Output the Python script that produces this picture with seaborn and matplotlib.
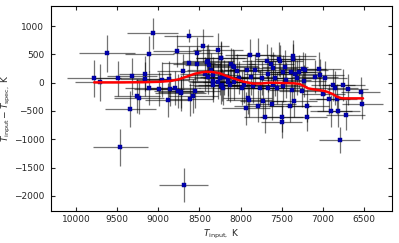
import numpy as np
import pandas as pd
import matplotlib
matplotlib.use("Agg")
import matplotlib.pyplot as plt
import seaborn as sns

# ---- data ----
t_input = [9780, 9710, 9620, 9490, 9460, 9340, 9320, 9260, 9234, 9160,
           9160, 9110, 9110, 9070, 8990, 8950, 8886, 8874, 8858, 8797,
           8770, 8757, 8724, 8720, 8700, 8690, 8630, 8630, 8611, 8574,
           8554, 8533, 8525, 8455, 8436, 8392, 8380, 8339, 8331, 8274,
           8241, 8241, 8209, 8156, 8128, 8116, 8088, 8076, 8047, 8015,
           7979, 7955, 7934, 7914, 7898, 7885, 7873, 7845, 7824, 7784,
           7784, 7764, 7744, 7732, 7703, 7683, 7670, 7662, 7630, 7622,
           7609, 7602, 7581, 7553, 7528, 7520, 7500, 7500, 7488, 7480,
           7460, 7448, 7399, 7387, 7379, 7367, 7351, 7338, 7318, 7286,
           7257, 7245, 7225, 7217, 7196, 7189, 7095, 7043, 7035, 6994,
           6974, 6922, 6901, 6873, 6852, 6832, 6812, 6792, 6751, 6722,
           6697, 6539, 6519, 8412, 8237, 8392, 8331, 8250, 8355, 8197,
           8222, 8278, 8331, 8080, 7925, 8156, 7358]
dT = [75, 5, 520, 80, -1140, -460, 110, -235, -265, 155,
      60, 505, -95, 870, -118, 50, -312, 70, -118, -100,
      555, -141, -188, -160, 200, -1810, 830, 340, -290, -235,
      -141, 329, 525, 650, 153, 382, 312, 29, 135, 576,
      441, -59, -100, 17, -41, 324, 300, 11, 212, 88,
      -100, -41, -453, -265, -306, 488, 94, -59, 223, 488,
      -412, -100, 77, -323, -600, 382, 153, -100, 324, -377,
      253, -41, 77, -100, 412, 382, -600, -700, 194, -59,
      282, 47, -412, 194, -130, 412, -318, 153, 88, 194,
      -141, 241, 29, 223, -600, -412, 106, 241, 135, -206,
      77, -288, -494, -41, -100, -288, -494, -1012, -41, -571,
      -118, -159, -377, 370, 430, 106, 18, 77, 223, 94,
      -41, 11, -47, 282, 223, 77, 470]
t_err = [330, 300, 340, 320, 330, 310, 300, 280, 300, 320,
         310, 300, 290, 310, 300, 320, 280, 330, 300, 310,
         290, 300, 310, 280, 320, 300, 300, 320, 280, 300,
         310, 290, 300, 320, 300, 310, 290, 300, 320, 300,
         300, 320, 290, 300, 310, 290, 300, 320, 300, 280,
         300, 310, 290, 300, 280, 300, 310, 290, 300, 280,
         300, 290, 310, 280, 260, 300, 290, 310, 280, 300,
         290, 300, 280, 310, 290, 280, 260, 250, 300, 290,
         280, 300, 260, 290, 280, 270, 280, 290, 300, 270,
         280, 290, 270, 280, 250, 260, 280, 270, 290, 260,
         270, 250, 260, 270, 280, 250, 260, 250, 260, 240,
         250, 240, 250, 300, 310, 290, 300, 320, 300, 290,
         300, 310, 290, 300, 280, 300, 280]
dT_err = [330, 320, 330, 310, 330, 320, 320, 300, 290, 310,
          300, 320, 300, 280, 300, 310, 300, 320, 290, 300,
          280, 300, 310, 290, 300, 300, 120, 300, 290, 300,
          310, 300, 280, 290, 300, 310, 290, 300, 320, 300,
          290, 310, 300, 320, 300, 290, 300, 310, 300, 290,
          300, 310, 290, 280, 300, 290, 310, 300, 280, 300,
          290, 310, 300, 280, 290, 300, 310, 290, 300, 280,
          290, 300, 310, 280, 300, 290, 270, 280, 300, 290,
          300, 310, 280, 290, 300, 280, 290, 300, 310, 290,
          280, 300, 290, 300, 260, 280, 290, 300, 280, 290,
          300, 270, 280, 290, 300, 270, 280, 235, 290, 260,
          280, 260, 270, 300, 290, 310, 300, 290, 300, 310,
          290, 300, 300, 290, 300, 310, 290]

t_run = [9780, 9500, 9200, 9000, 8850, 8750, 8650, 8550, 8480, 8420,
         8350, 8250, 8170, 8090, 7970, 7850, 7750, 7650, 7500, 7350,
         7280, 7230, 7180, 7100, 7000, 6950, 6880, 6830, 6780, 6750,
         6650, 6510]
dT_run = [5, 5, 8, 15, 30, 60, 110, 160, 180, 192,
          190, 165, 118, 77, 20, -15, -15, 0, -5, -11,
          -24, -60, -100, -120, -140, -160, -200, -247, -270, -277,
          -277, -277]

x_ticks = [10000, 9500, 9000, 8500, 8000, 7500, 7000, 6500]
y_ticks = [1000, 500, 0, -500, -1000, -1500, -2000]

df = pd.DataFrame({"t": t_input, "d": dT, "te": t_err, "de": dT_err})
run = pd.DataFrame({"t": t_run, "d": dT_run})

sns.set_style("ticks")
plt.rcParams["font.family"] = ["DejaVu Sans"]
plt.rcParams["font.size"] = 6.5

fig = plt.figure(figsize=(3.99, 2.43), dpi=100)
ax = fig.add_axes([0.128, 0.132, 0.854, 0.843])

ax.errorbar(df["t"], df["d"], xerr=df["te"], yerr=df["de"], fmt="none",
            ecolor="black", elinewidth=0.9, alpha=0.55, zorder=1)
sns.scatterplot(data=df, x="t", y="d", ax=ax, marker="s", s=6,
                color="#0000b0", edgecolor="#000080", linewidth=0.3, zorder=3)
sns.lineplot(data=run, x="t", y="d", ax=ax, color="red", linewidth=1.8,
             zorder=4, sort=False, estimator=None)

ax.set_xlim(10304, 6160)
ax.set_ylim(-2265, 1353)
ax.set_xticks(x_ticks)
ax.set_yticks(y_ticks)
ax.tick_params(direction="in", top=True, right=True, length=3,
               labelsize=6.5, width=0.8, pad=3)
ax.tick_params(axis="y", pad=5)
for s in ax.spines.values():
    s.set_linewidth(0.8)
    s.set_color("black")
ax.set_xlabel(r"$T_{\rm input,}$ K", fontsize=6.5, labelpad=3)
ax.set_ylabel(r"$T_{\rm input} - T_{\rm spec,}$ K", fontsize=6.5)
ax.yaxis.set_label_coords(-0.112, 0.5)

fig.savefig("out.png", dpi=100)
